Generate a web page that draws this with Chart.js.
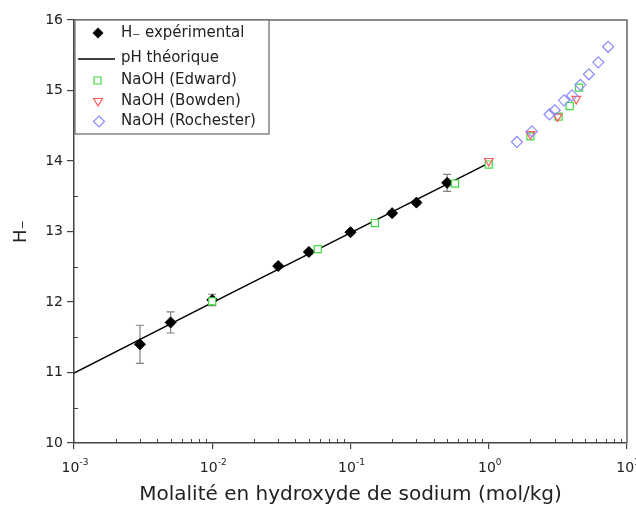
<!DOCTYPE html>
<html>
<head>
<meta charset="utf-8">
<script src="https://cdn.jsdelivr.net/npm/chart.js@4.4.0/dist/chart.umd.min.js"></script>
<style>
  html, body { margin: 0; padding: 0; background: #fff; }
</style>
</head>
<body>
<canvas id="myChart" width="636" height="508"></canvas>
<script>
// H_ experimental (molality, H_, error bar half-height)
const hX   = [0.003, 0.005, 0.01, 0.03, 0.05, 0.1, 0.2, 0.3, 0.5];
const hY   = [11.40, 11.71, 12.03, 12.51, 12.71, 12.99, 13.26, 13.41, 13.69];
const hErr = [0.27, 0.15, 0.08, 0.03, 0.03, 0.03, 0.03, 0.03, 0.12];

// pH theorique
const lineX = [0.001, 0.01, 0.1, 1];
const lineY = [10.99, 11.99, 12.98, 13.97];

// literature NaOH data
const edwardX = [0.01, 0.058, 0.15, 0.57, 1.0, 2.0, 3.2, 3.85, 4.5];
const edwardY = [12.01, 12.75, 13.12, 13.68, 13.95, 14.35, 14.63, 14.78, 15.04];
const bowdenX = [1.0, 2.0, 3.15, 4.3];
const bowdenY = [14.0, 14.38, 14.63, 14.88];
const rochX = [1.6, 2.05, 2.75, 3.0, 3.5, 4.0, 4.6, 5.3, 6.2, 7.3];
const rochY = [14.27, 14.42, 14.66, 14.72, 14.86, 14.93, 15.08, 15.23, 15.40, 15.62];

// axes
const xTickValues = [0.001, 0.01, 0.1, 1, 10];
const xTickExp = ['-3', '-2', '-1', '0', '1'];
const yTickValues = [10, 11, 12, 13, 14, 15, 16];

const FONT = '"DejaVu Sans", "Liberation Sans", Arial, sans-serif';
const GREEN = '#3fdc3f', RED = '#ff5a5a', BLUE = '#8c8cff';

const toPts = (xs, ys) => xs.map((x, i) => ({ x: x, y: ys[i] }));

// error bars under the markers
const errorBars = {
    id: 'errorBars',
    beforeDatasetsDraw(chart) {
        const ctx = chart.ctx, xs = chart.scales.x, ys = chart.scales.y;
        ctx.save();
        ctx.strokeStyle = '#808080';
        ctx.lineWidth = 1.2;
        hX.forEach((v, i) => {
            const px = xs.getPixelForValue(v);
            const t = ys.getPixelForValue(hY[i] + hErr[i]);
            const b = ys.getPixelForValue(hY[i] - hErr[i]);
            ctx.beginPath();
            ctx.moveTo(px, t); ctx.lineTo(px, b);
            ctx.moveTo(px - 4, t); ctx.lineTo(px + 4, t);
            ctx.moveTo(px - 4, b); ctx.lineTo(px + 4, b);
            ctx.stroke();
        });
        ctx.restore();
    }
};

// top/right frame, minor ticks, x labels with exponents
const frame = {
    id: 'frame',
    afterDatasetsDraw(chart) {
        const ctx = chart.ctx, a = chart.chartArea;
        const xs = chart.scales.x, ys = chart.scales.y;
        ctx.save();
        ctx.strokeStyle = '#666';
        ctx.lineWidth = 1.5;
        ctx.beginPath();
        ctx.moveTo(a.left, a.top); ctx.lineTo(a.right, a.top); ctx.lineTo(a.right, a.bottom);
        ctx.stroke();

        ctx.strokeStyle = '#444';
        ctx.lineWidth = 1;
        ctx.beginPath();
        for (let d = -3; d < 1; d++) {
            for (let k = 2; k <= 9; k++) {
                const px = Math.round(xs.getPixelForValue(k * Math.pow(10, d))) + 0.5;
                ctx.moveTo(px, a.bottom); ctx.lineTo(px, a.bottom - 4);
            }
        }
        for (let v = 10.5; v < 16; v++) {
            const py = Math.round(ys.getPixelForValue(v)) + 0.5;
            ctx.moveTo(a.left, py); ctx.lineTo(a.left + 4, py);
        }
        ctx.stroke();

        ctx.fillStyle = '#222';
        ctx.textBaseline = 'alphabetic';
        ctx.textAlign = 'left';
        xTickValues.forEach((v, i) => {
            const px = xs.getPixelForValue(v);
            ctx.font = '14px ' + FONT;
            const bw = ctx.measureText('10').width;
            ctx.font = '9px ' + FONT;
            const ew = ctx.measureText(xTickExp[i]).width;
            const x0 = px - (bw + ew) / 2 + 1;
            ctx.font = '14px ' + FONT;
            ctx.fillText('10', x0, a.bottom + 29);
            ctx.font = '9px ' + FONT;
            ctx.fillText(xTickExp[i], x0 + bw, a.bottom + 22);
        });
        ctx.restore();
    }
};

function marker(ctx, style, x, y) {
    ctx.beginPath();
    if (style === 'diamond') {
        ctx.moveTo(x, y - 5.5); ctx.lineTo(x + 5.5, y); ctx.lineTo(x, y + 5.5); ctx.lineTo(x - 5.5, y); ctx.closePath();
    } else if (style === 'square') {
        ctx.rect(x - 3.5, y - 3.5, 7, 7);
    } else if (style === 'tri') {
        ctx.moveTo(x - 4.3, y - 2.5); ctx.lineTo(x + 4.3, y - 2.5); ctx.lineTo(x, y + 5); ctx.closePath();
    }
}

// legend box in upper left corner of the plot
const legendBox = {
    id: 'legendBox',
    afterDraw(chart) {
        const ctx = chart.ctx;
        ctx.save();
        ctx.fillStyle = '#fff';
        ctx.fillRect(75, 20, 194, 114);
        ctx.strokeStyle = '#666';
        ctx.lineWidth = 1.2;
        ctx.strokeRect(75, 20, 194, 114);

        ctx.lineWidth = 1.2;
        marker(ctx, 'diamond', 98, 33);
        ctx.fillStyle = '#000'; ctx.fill();

        ctx.strokeStyle = '#000'; ctx.lineWidth = 1.5;
        ctx.beginPath(); ctx.moveTo(78, 59); ctx.lineTo(115, 59); ctx.stroke();

        ctx.lineWidth = 1.2;
        marker(ctx, 'square', 97.5, 80.5); ctx.strokeStyle = GREEN; ctx.stroke();
        marker(ctx, 'tri', 98, 101); ctx.strokeStyle = RED; ctx.stroke();
        marker(ctx, 'diamond', 99, 121.5); ctx.strokeStyle = BLUE; ctx.stroke();

        const labels = ['H\u208B expérimental', 'pH théorique', 'NaOH (Edward)', 'NaOH (Bowden)', 'NaOH (Rochester)'];
        const ys = [33, 58, 80, 101, 121.5];
        ctx.fillStyle = '#222';
        ctx.font = '15px ' + FONT;
        ctx.textAlign = 'left';
        ctx.textBaseline = 'middle';
        labels.forEach((t, i) => ctx.fillText(t, 121, ys[i]));
        ctx.restore();
    }
};

const ctx = document.getElementById('myChart').getContext('2d');
const chart = new Chart(ctx, {
    type: 'scatter',
    data: {
        datasets: [
            {
                label: 'pH théorique',
                data: toPts(lineX, lineY),
                showLine: true,
                borderColor: '#000',
                borderWidth: 1.5,
                pointRadius: 0,
                order: 5
            },
            {
                label: 'H\u208B expérimental',
                data: toPts(hX, hY),
                pointStyle: 'rectRot',
                pointRadius: 5.5,
                backgroundColor: '#000',
                borderColor: '#000',
                borderWidth: 1,
                order: 4
            },
            {
                label: 'NaOH (Edward)',
                data: toPts(edwardX, edwardY),
                pointStyle: 'rect',
                pointRadius: 5,
                backgroundColor: '#fff',
                borderColor: GREEN,
                borderWidth: 1.2,
                order: 3
            },
            {
                label: 'NaOH (Bowden)',
                data: toPts(bowdenX, bowdenY),
                pointStyle: 'triangle',
                rotation: 180,
                pointRadius: 5,
                backgroundColor: 'rgba(0,0,0,0)',
                borderColor: RED,
                borderWidth: 1.2,
                order: 2
            },
            {
                label: 'NaOH (Rochester)',
                data: toPts(rochX, rochY),
                pointStyle: 'rectRot',
                pointRadius: 5.5,
                backgroundColor: 'rgba(0,0,0,0)',
                borderColor: BLUE,
                borderWidth: 1.2,
                order: 1
            }
        ]
    },
    options: {
        responsive: false,
        animation: false,
        devicePixelRatio: 1,
        layout: {
            autoPadding: false,
            padding: { left: 0, top: 20, right: 9, bottom: 0 }
        },
        plugins: {
            legend: { display: false },
            tooltip: { enabled: false }
        },
        scales: {
            x: {
                type: 'logarithmic',
                position: 'bottom',
                min: 0.001,
                max: 10,
                afterBuildTicks: s => { s.ticks = xTickValues.map(v => ({ value: v })); },
                afterFit: s => { s.height = 65; },
                ticks: { display: false },
                grid: { drawOnChartArea: false, drawTicks: true, tickLength: 6, color: '#444', lineWidth: 1.2 },
                border: { color: '#444', width: 1.5 },
                title: {
                    display: true,
                    text: 'Molalité en hydroxyde de sodium (mol/kg)',
                    font: { family: FONT, size: 20 },
                    color: '#222',
                    padding: { top: 0, bottom: 1 }
                }
            },
            y: {
                min: 10,
                max: 16,
                afterBuildTicks: s => { s.ticks = yTickValues.map(v => ({ value: v })); },
                afterFit: s => { s.width = 74; },
                ticks: { font: { family: FONT, size: 14 }, color: '#222', padding: 4 },
                grid: { drawOnChartArea: false, drawTicks: true, tickLength: 7, color: '#444', lineWidth: 1.2 },
                border: { color: '#444', width: 1.5 },
                title: {
                    display: true,
                    text: 'H\u208B',
                    font: { family: FONT, size: 18 },
                    color: '#222',
                    padding: { top: 11, bottom: 0 }
                }
            }
        }
    },
    plugins: [errorBars, frame, legendBox]
});
</script>
</body>
</html>
